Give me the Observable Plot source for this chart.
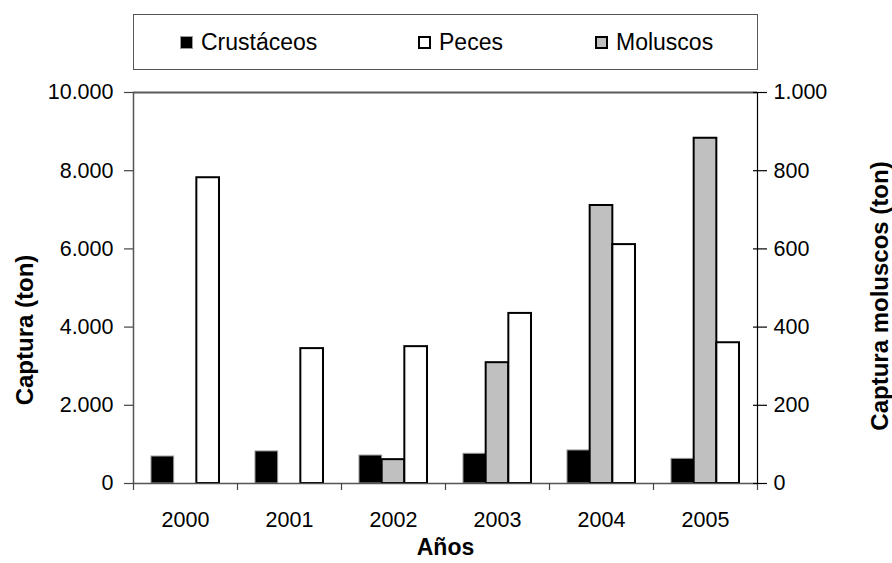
<!DOCTYPE html>
<html>
<head>
<meta charset="utf-8">
<script src="https://cdn.jsdelivr.net/npm/d3@7"></script>
<script src="https://cdn.jsdelivr.net/npm/@observablehq/plot@0.6"></script>
<style>
  html, body { margin: 0; padding: 0; background: #fff; }
  body { width: 892px; height: 563px; position: relative; overflow: hidden;
         font-family: "Liberation Sans", Arial, sans-serif; color: #000; }
  #legend { position: absolute; left: 133px; top: 14px; width: 625px; height: 56px;
            box-sizing: border-box; border: 1.5px solid #555; background: #fff; }
  .item { position: absolute; top: 13px; height: 28px; display: flex; align-items: center;
          font-size: 23px; line-height: 1; white-space: nowrap; }
  .sw { width: 13px; height: 13px; box-sizing: border-box; margin-right: 8px; }
  #chart { position: absolute; left: 0; top: 80px; }
</style>
</head>
<body>
<div id="legend"></div>
<div id="chart"></div>
<script>
// ---- data ----
const years = ["2000", "2001", "2002", "2003", "2004", "2005"];
const series = ["Crustáceos", "Moluscos", "Peces"];            // order of bars inside each year
const legendOrder = ["Crustáceos", "Peces", "Moluscos"];        // order in the legend
const crustaceos = [690, 820, 715, 760, 845, 630];              // ton, left axis
const peces = [7820, 3450, 3500, 4350, 6110, 3600];             // ton, left axis
const moluscos = [null, null, 61, 309, 711, 883];               // ton, right axis
const leftTicks = [0, 2000, 4000, 6000, 8000, 10000];
const rightTicks = [0, 200, 400, 600, 800, 1000];
const yLabelLeft = "Captura (ton)";
const yLabelRight = "Captura moluscos (ton)";
const xLabel = "Años";

// ---- styling ----
const fills = {"Crustáceos": "#000000", "Moluscos": "#c0c0c0", "Peces": "#ffffff"};
const strokes = {"Crustáceos": "#9a9a9a", "Moluscos": "#000000", "Peces": "#000000"};
const strokeWidths = {"Crustáceos": 1, "Moluscos": 2, "Peces": 2};

const leftMax = d3.max(leftTicks), rightMax = d3.max(rightTicks);
const ratio = leftMax / rightMax;
const values = {"Crustáceos": crustaceos, "Moluscos": moluscos, "Peces": peces};
const onRight = {"Crustáceos": false, "Moluscos": true, "Peces": false};

const rows = years.flatMap((year, i) => series.map((s, k) => ({
  i, year, serie: s, k, value: values[s][i],
  y: values[s][i] == null ? null : values[s][i] * (onRight[s] ? ratio : 1)
}))).filter(d => d.y != null);

const es = d3.formatLocale({decimal: ",", thousands: ".", grouping: [3], currency: ["", ""]});
const fmt = es.format(",");

// bar layout inside one year band (fractions of the band)
const bw = 0.218;
const gap = (1 - series.length * bw) / 2;

const boundaries = d3.range(years.length + 1);
const centers = years.map((_, i) => i + 0.5);

const barMarks = series.map(s => Plot.rectY(rows.filter(d => d.serie === s), {
  x1: d => d.i + gap + d.k * bw,
  x2: d => d.i + gap + (d.k + 1) * bw,
  y1: 0, y2: "y",
  fill: fills[s], stroke: strokes[s], strokeWidth: strokeWidths[s]
}));

const chart = Plot.plot({
  width: 892, height: 483,
  marginLeft: 133, marginRight: 135, marginTop: 12, marginBottom: 80,
  style: {fontFamily: "'Liberation Sans', Arial, sans-serif", fontSize: "21.5px", color: "#000", background: "#fff", overflow: "visible"},
  x: {type: "linear", domain: [0, years.length], axis: null},
  y: {domain: [0, leftMax], axis: null},
  marks: [
    ...barMarks,
    // frame lines
    Plot.ruleY([leftMax], {stroke: "#5a5a5a", strokeWidth: 2}),
    Plot.ruleX([years.length], {stroke: "#000", strokeWidth: 1.2}),
    Plot.ruleX([0], {stroke: "#555", strokeWidth: 1.5}),
    Plot.ruleY([0], {stroke: "#555", strokeWidth: 1.5}),
    // x axis: boundary ticks and year labels
    Plot.axisX(boundaries, {anchor: "bottom", label: null, tickSize: 7, tickFormat: () => "", stroke: "#444", strokeWidth: 1.2}),
    Plot.axisX(centers, {anchor: "bottom", label: null, tickSize: 0, tickPadding: 28, tickFormat: v => years[Math.floor(v)], fontSize: 21.5}),
    // left axis
    Plot.axisY(leftTicks, {anchor: "left", label: null, tickSize: 9, tickPadding: 11, tickFormat: fmt, stroke: "#444", strokeWidth: 1.2, fontSize: 21.5}),
    // right axis (moluscos): crossing ticks + labels
    Plot.axisY(rightTicks.map(v => v * ratio), {anchor: "right", label: null, tickSize: 14, dx: -5, tickFormat: () => "", stroke: "#000", strokeWidth: 1.2}),
    Plot.axisY(rightTicks.map(v => v * ratio), {anchor: "right", label: null, tickSize: 0, tickPadding: 16, tickFormat: v => fmt(v / ratio), fontSize: 21.5}),
    // axis titles
    Plot.text([yLabelLeft], {frameAnchor: "left", textAnchor: "middle", lineAnchor: "middle", dx: -108, dy: 42, rotate: -90, fontWeight: "bold", fontSize: 24}),
    Plot.text([yLabelRight], {frameAnchor: "right", textAnchor: "middle", lineAnchor: "middle", dx: 123, dy: 8, rotate: -90, fontWeight: "bold", fontSize: 24}),
    Plot.text([xLabel], {frameAnchor: "bottom", textAnchor: "middle", lineAnchor: "middle", dy: 64, fontWeight: "bold", fontSize: 23})
  ]
});
document.getElementById("chart").appendChild(chart);

// ---- legend (HTML, above the svg) ----
const legendLeft = {"Crustáceos": 46, "Peces": 284, "Moluscos": 461};
const legend = document.getElementById("legend");
for (const s of legendOrder) {
  const item = document.createElement("div");
  item.className = "item";
  item.style.left = legendLeft[s] + "px";
  const sw = document.createElement("span");
  sw.className = "sw";
  sw.style.background = fills[s];
  sw.style.border = s === "Crustáceos" ? "1px solid #9a9a9a" : "2px solid #000";
  const label = document.createElement("span");
  label.textContent = s;
  item.appendChild(sw);
  item.appendChild(label);
  legend.appendChild(item);
}
</script>
</body>
</html>
